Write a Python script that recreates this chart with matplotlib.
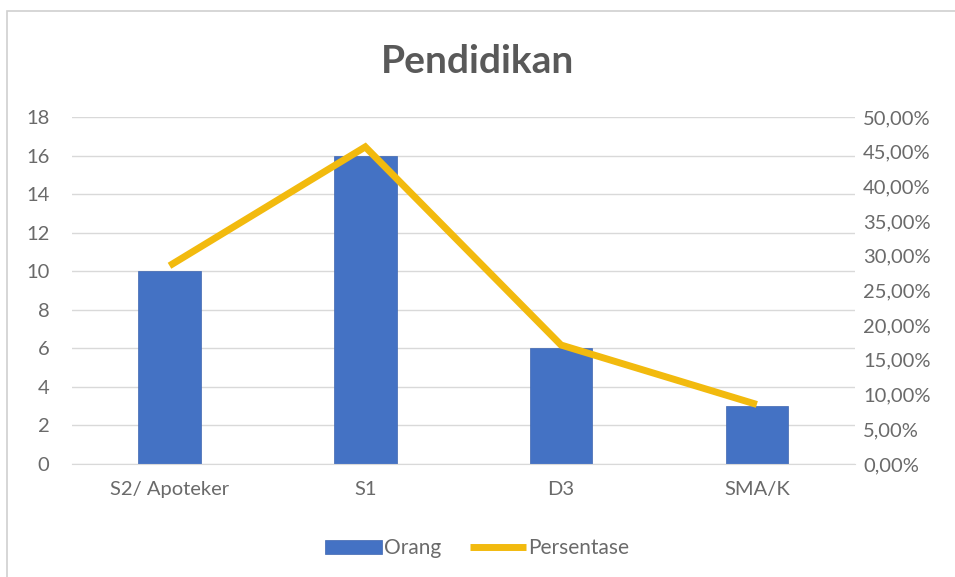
import numpy as np
import matplotlib.pyplot as plt
from matplotlib.patches import Rectangle
from matplotlib.ticker import FuncFormatter

# data
categories = ["S2/ Apoteker", "S1", "D3", "SMA/K"]
orang = [10, 16, 6, 3]
persentase = [28.57, 45.71, 17.14, 8.57]

plt.rcParams['font.family'] = ['Lato', 'DejaVu Sans']
grey = '#595959'
tick_grey = '#6a6a6a'

fig = plt.figure(figsize=(9.55, 5.77), dpi=100)
ax = fig.add_axes([0.075, 0.196, 0.82, 0.601])
ax2 = ax.twinx()

x = np.arange(len(categories))
ax.bar(x, orang, width=0.32, color='#4472C4', edgecolor='#3f66b0', linewidth=0.5,
       zorder=2, label='Orang')
ax2.plot(x, persentase, color='#F2BA0E', linewidth=5, solid_capstyle='butt',
         solid_joinstyle='miter', zorder=3, label='Persentase')

ax.set_xlim(-0.5, 3.5)
ax.set_ylim(0, 18)
ax.set_yticks(range(0, 19, 2))
ax2.set_ylim(0, 50)
ax2.set_yticks(np.arange(0, 51, 5))
ax2.yaxis.set_major_formatter(FuncFormatter(lambda v, p: f"{v:.2f}".replace('.', ',') + "%"))

ax.set_xticks(x)
ax.set_xticklabels(categories)
ax.grid(axis='y', color='#d9d9d9', linewidth=1, zorder=0)
for a in (ax, ax2):
    for s in a.spines.values():
        s.set_visible(False)
    a.tick_params(length=0, labelsize=14.5, colors=tick_grey)
ax.spines['bottom'].set_visible(True)
ax.spines['bottom'].set_color('#d9d9d9')
ax.tick_params(axis='x', pad=12)
ax.tick_params(axis='y', pad=16)
ax2.tick_params(axis='y', pad=6)

fig.text(0.5, 0.893, "Pendidikan", ha='center', va='center', fontsize=28,
         fontweight='bold', color=grey)

h1, l1 = ax.get_legend_handles_labels()
h2, l2 = ax2.get_legend_handles_labels()
fig.legend(h1 + h2, l1 + l2, loc='center', bbox_to_anchor=(0.5, 0.05), ncol=2,
           frameon=False, fontsize=15, labelcolor=tick_grey, handlelength=2.7,
           handletextpad=0.1, columnspacing=1.4)

# chart frame
fig.patches.append(Rectangle((0.007, -0.05), 1.2, 1.031, transform=fig.transFigure,
                             fill=False, edgecolor='#d0d0d0', linewidth=1.2))

fig.savefig("out.png", dpi=100)
